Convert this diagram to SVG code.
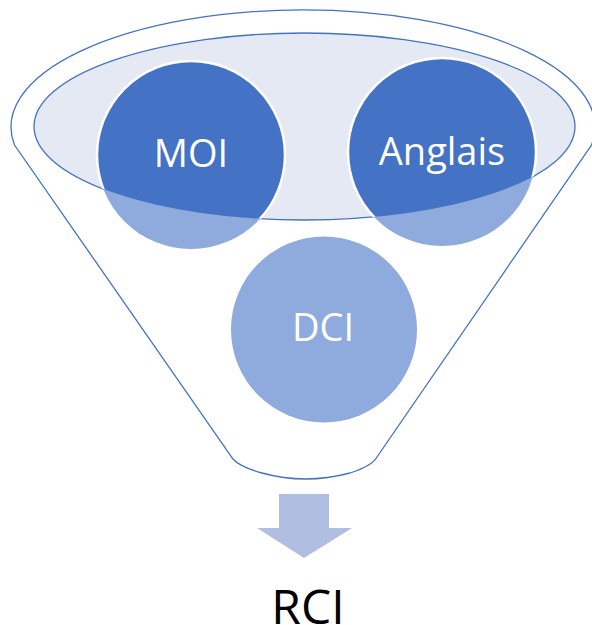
<svg xmlns="http://www.w3.org/2000/svg" width="592" height="625" viewBox="0 0 592 625">
  <style>
    .outline { fill: #FFFFFF; stroke: #4472C4; stroke-width: 1.3; }
    .rim { fill: #E4E9F4; stroke: #4472C4; stroke-width: 1.3; }
    .light { fill: #8FAADC; }
    .dark { fill: #4472C4; stroke: #FFFFFF; stroke-width: 2.5; }
    .label { font-family: "Open Sans", "Noto Sans", "Liberation Sans", sans-serif; font-size: 38px; fill: #FFFFFF; text-anchor: middle; }
    .result { font-family: "Open Sans", "Noto Sans", "Liberation Sans", sans-serif; font-size: 48px; fill: #000000; text-anchor: middle; }
    .arrow { fill: #B0BEE1; }
  </style>
  <defs>
    <clipPath id="rimClip">
      <ellipse cx="304.5" cy="126.5" rx="270.5" ry="93.5"/>
    </clipPath>
  </defs>
  <rect width="592" height="625" fill="#FFFFFF"/>
  <g id="funnel">
    <path class="outline" d="M 14.5 145 A 292 117 0 1 1 591.5 145 L 377 457 Q 372 466 350 473 Q 305 485 262 473 Q 240 467 233 459 Z"/>
    <ellipse class="rim" cx="304.5" cy="126.5" rx="270.5" ry="93.5"/>
  </g>
  <g id="node-moi">
    <circle class="light" cx="191" cy="155" r="94"/>
    <circle class="dark" cx="191" cy="155" r="94" clip-path="url(#rimClip)"/>
    <text class="label" x="191" y="167">MOI</text>
  </g>
  <g id="node-anglais">
    <circle class="light" cx="442" cy="152" r="94"/>
    <circle class="dark" cx="442" cy="152" r="94" clip-path="url(#rimClip)"/>
    <text class="label" x="442" y="165">Anglais</text>
  </g>
  <g id="node-dci">
    <circle class="light" cx="324" cy="329.5" r="93"/>
    <text class="label" x="323" y="341">DCI</text>
  </g>
  <g id="connectors">
    <polygon class="arrow" points="279,494 329,494 329,528 352,528 304,558 257,528 279,528"/>
  </g>
  <g id="node-rci">
    <text class="result" x="308" y="624">RCI</text>
  </g>
</svg>
